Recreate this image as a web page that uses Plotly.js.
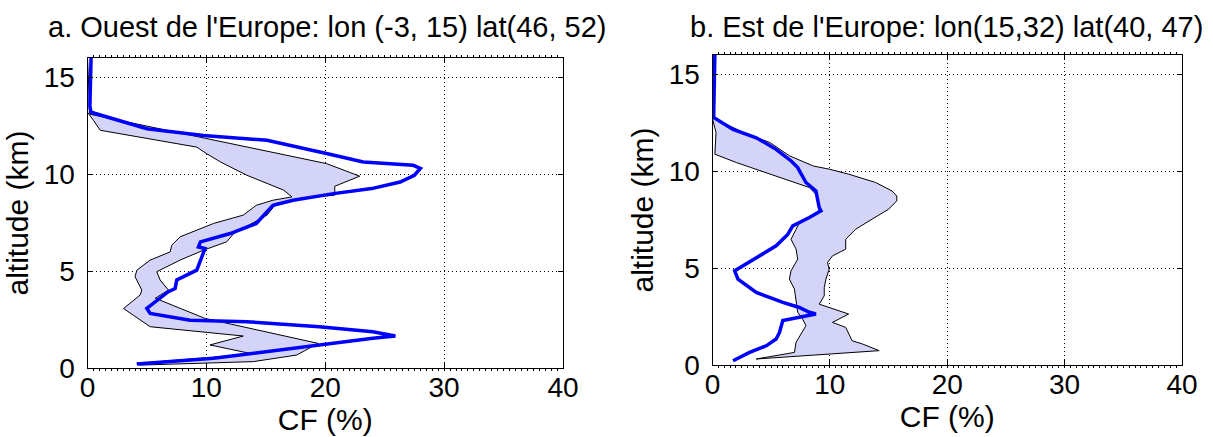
<!DOCTYPE html>
<html>
<head>
<meta charset="utf-8">
<script src="https://cdn.plot.ly/plotly-3.0.1.min.js"></script>
<style>html,body{margin:0;padding:0;background:#fff;}#chart{width:1213px;height:437px;}</style>
</head>
<body>
<div id="chart"></div>
<script>
// ---- Panel a: Ouest de l'Europe ----
const aBlueAlt = [16.0,14.5,13.5,13.2,12.35,12.0,11.75,11.07,10.63,10.46,10.3,9.95,9.6,9.26,9.0,8.66,8.4,7.46,6.94,6.51,6.25,6.17,5.48,5.05,4.54,4.1,3.94,3.5,3.08,2.82,2.47,2.39,2.13,1.87,1.65,1.53,1.19,0.84,0.5,0.21];
const aBlueCF  = [0.3,0.25,0.2,0.3,5.0,9.75,15.1,20.1,23.2,27.4,28.0,27.5,26.3,23.9,20.7,17.3,15.6,14.2,12.0,9.5,9.33,9.89,9.47,9.19,7.51,7.37,6.8,5.83,4.99,5.27,8.63,13.4,19.5,24.0,25.9,24.0,19.5,15.1,10.6,4.15];

const aMinAlt = [16.0,13.2,12.78,12.27,11.4,11.07,10.63,9.95,9.18,8.83,8.66,8.4,7.89,7.46,6.77,6.43,6.34,5.99,5.57,5.05,4.71,4.02,3.77,3.07,2.73,2.13,1.65,1.19,0.72,0.24];
const aMinCF  = [0.0,0.0,0.5,1.07,9.2,10.0,11.2,13.4,16.5,17.2,15.6,14.2,13.1,10.6,7.79,7.23,7.09,6.95,5.27,4.15,4.0,4.57,4.43,3.03,3.87,5.27,13.1,10.3,13.95,4.15];

const aMaxAlt = [16.0,13.2,13.1,10.55,9.9,9.38,8.92,8.76,8.5,7.89,6.94,6.51,6.08,5.57,4.97,4.54,4.02,3.6,2.56,1.27,0.67,0.33,0.15];
const aMaxCF  = [0.0,0.2,0.2,20.1,22.9,20.8,20.8,17.9,15.9,15.1,12.3,11.7,9.75,7.79,5.83,6.11,6.81,5.7,9.89,19.4,17.6,13.95,4.43];

// ---- Panel b: Est de l'Europe ----
const bBlueAlt = [16.0,14.0,12.77,12.16,11.73,11.13,10.53,10.19,9.42,8.98,8.13,7.96,7.61,7.18,6.74,6.15,5.63,5.03,4.86,4.43,3.75,3.23,2.97,2.72,2.63,2.46,2.29,1.68,1.34,0.99,0.65,0.22];
const bBlueCF  = [0.2,0.15,0.1,1.75,3.73,5.42,6.7,7.26,7.96,8.81,9.09,9.24,8.25,6.84,6.41,5.42,4.01,2.46,1.89,2.17,3.73,5.99,7.4,8.25,8.81,7.4,5.99,5.71,5.42,4.58,3.16,1.75];

const bMinAlt = [16.0,12.7,12.0,10.88,10.45,9.76,9.16,8.72,7.87,7.6,7.35,7.0,6.49,5.98,5.46,4.86,4.43,3.92,3.4,2.72,2.37,2.03,1.6,1.17,0.65,0.31];
const bMinCF  = [0.0,0.0,0.3,0.2,2.03,5.42,8.25,8.95,9.09,8.25,7.4,7.12,6.69,7.12,7.26,6.69,6.55,6.98,7.12,7.26,7.68,7.96,7.54,7.12,6.98,3.73];

const bMaxAlt = [16.0,12.77,12.0,11.48,10.79,10.27,10.1,9.85,9.42,8.98,8.72,8.47,8.04,7.53,7.01,6.49,5.98,5.63,5.29,4.94,4.43,4.0,3.57,3.14,2.63,2.2,1.94,1.25,1.08,0.74,0.31];
const bMaxCF  = [0.0,0.0,2.63,4.89,6.58,8.6,10.0,11.6,13.9,15.3,15.7,15.7,15.0,13.6,12.2,11.35,11.35,10.22,9.8,9.94,9.66,9.52,9.52,9.09,11.6,10.22,11.35,11.9,12.8,14.2,3.73];

const xTickStep = 10;   // CF ticks 0,10,20,30,40
const yTickStep = 5;    // altitude ticks 0,5,10,15
const titleA = "a. Ouest de l'Europe: lon (-3, 15) lat(46, 52)";
const titleB = "b. Est de l'Europe: lon(15,32) lat(40, 47)";

const FONT = "Liberation Sans, Arial, Helvetica, sans-serif";
const FS = 28;
const FT = 30;
const BAND = 'rgb(212,212,248)';
const BLUE = 'rgb(0,0,255)';

function bandTrace(minCF, minAlt, maxCF, maxAlt, xa, ya) {
  const xs = minCF.concat(maxCF.slice().reverse());
  const ys = minAlt.concat(maxAlt.slice().reverse());
  return {x: xs, y: ys, xaxis: xa, yaxis: ya, type: 'scatter', mode: 'lines',
    fill: 'toself', fillcolor: BAND, line: {color: 'black', width: 1}, hoverinfo: 'skip'};
}
function blueTrace(cf, alt, xa, ya) {
  return {x: cf, y: alt, xaxis: xa, yaxis: ya, type: 'scatter', mode: 'lines',
    line: {color: BLUE, width: 3.5}};
}

const data = [
  bandTrace(aMinCF, aMinAlt, aMaxCF, aMaxAlt, 'x', 'y'),
  blueTrace(aBlueCF, aBlueAlt, 'x', 'y'),
  bandTrace(bMinCF, bMinAlt, bMaxCF, bMaxAlt, 'x2', 'y2'),
  blueTrace(bBlueCF, bBlueAlt, 'x2', 'y2')
];

const common = {ticks: 'inside', ticklen: 5, tickcolor: 'black', showline: true, linecolor: 'black', linewidth: 1,
  mirror: 'ticks', zeroline: false, showgrid: true, gridcolor: 'black', griddash: '1px,3px', gridwidth: 1,
  tickfont: {family: FONT, size: FS, color: 'black'}};

function xAxis(domain, anchor) {
  return Object.assign({}, common, {domain: domain, anchor: anchor, range: [0, 40],
    tickmode: 'linear', tick0: 0, dtick: xTickStep, ticklabelstandoff: -6,
    minor: {tickmode: 'linear', tick0: 0, dtick: 0.5, ticks: 'outside', ticklen: 2, tickcolor: 'black', tickwidth: 1, showgrid: false},
    title: {text: 'CF (%)', font: {family: FONT, size: FT, color: 'black'}, standoff: 0}});
}
function yAxis(domain, anchor) {
  return Object.assign({}, common, {domain: domain, anchor: anchor, range: [0, 16],
    tickmode: 'linear', tick0: 0, dtick: yTickStep, ticklabelstandoff: 6,
    title: {text: 'altitude (km)', font: {family: FONT, size: FT, color: 'black'}, standoff: 6}});
}

const W = 1213, H = 437;
const layout = {
  width: W, height: H, margin: {l: 0, r: 0, t: 0, b: 0},
  paper_bgcolor: 'white', plot_bgcolor: 'white', showlegend: false,
  xaxis: xAxis([87.5 / W, 563 / W], 'y'),
  yaxis: yAxis([(H - 368) / H, (H - 58) / H], 'x'),
  xaxis2: xAxis([712.5 / W, 1182 / W], 'y2'),
  yaxis2: yAxis([(H - 365) / H, (H - 55) / H], 'x2'),
  annotations: [
    {text: titleA, xref: 'paper', yref: 'paper', x: 327 / W, y: (H - 27) / H, xanchor: 'center', yanchor: 'middle',
     showarrow: false, font: {family: FONT, size: 29, color: 'black'}},
    {text: titleB, xref: 'paper', yref: 'paper', x: 946 / W, y: (H - 27) / H, xanchor: 'center', yanchor: 'middle',
     showarrow: false, font: {family: FONT, size: 29, color: 'black'}}
  ]
};

Plotly.newPlot('chart', data, layout, {displayModeBar: false, staticPlot: true});
</script>
</body>
</html>
